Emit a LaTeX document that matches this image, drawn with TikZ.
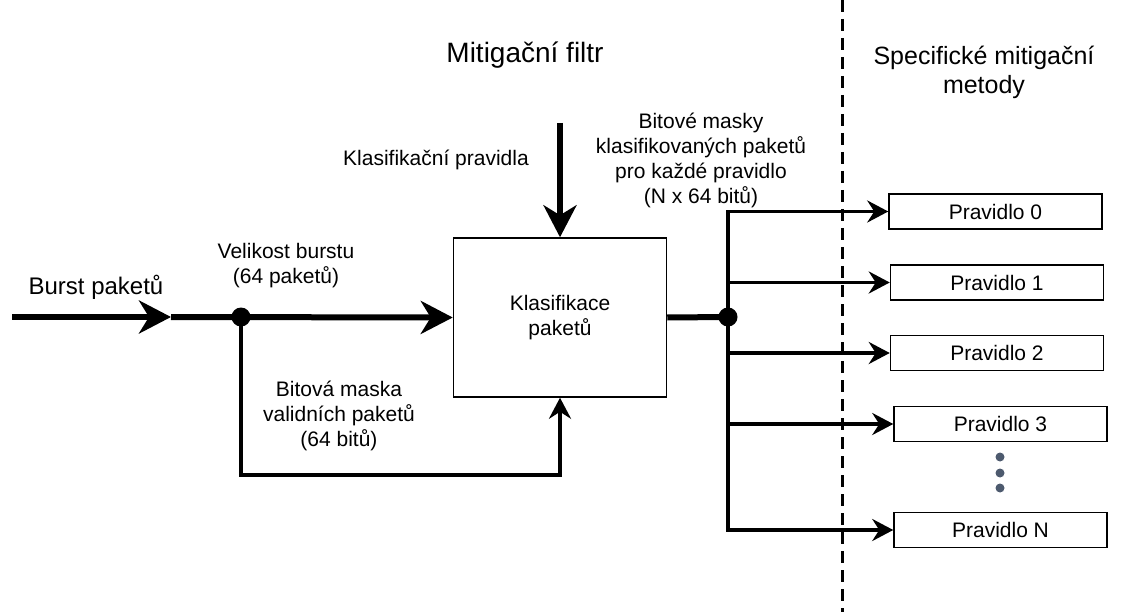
\documentclass[tikz,border=0pt]{standalone}
\usepackage{fontspec}
\setmainfont{Liberation Sans}
\usetikzlibrary{arrows.meta}

\definecolor{dotgray}{RGB}{77,90,110}

\begin{document}
\begin{tikzpicture}[x=1pt,y=-1pt,
  box/.style={draw,line width=1.5pt,inner sep=0pt,align=center,font=\fontsize{21}{25}\selectfont},
  txt/.style={align=center,inner sep=0pt,font=\fontsize{21}{25}\selectfont},
  big/.style={align=center,inner sep=0pt,font=\fontsize{25}{29}\selectfont},
  thickline/.style={line width=6pt},
  thinline/.style={line width=3.5pt},
  bigtip/.style={-{Stealth[length=32pt,width=33pt,inset=10pt]}},
  smalltip/.style={-{Stealth[length=21pt,width=22pt,inset=7pt]}},
  junction/.style={circle,fill=black,inner sep=0pt,minimum size=19pt}]
  \useasboundingbox (0,0) rectangle (1137,612);

  % titles
  \node[big,font=\fontsize{28}{32}\selectfont,anchor=base] (titleleft) at (525,63) {Mitigační filtr};
  \node[big] (titleright) at (984,72) {Specifické mitigační\\metody};
  \coordinate (divtop) at (842,0);
  \coordinate (divbot) at (842,612);
  \draw[line width=3pt,dash pattern=on 12pt off 7pt] (divtop) -- (divbot);

  % classifier
  \node[box,minimum width=213pt,minimum height=159pt] (klas) at (560,317.5) {Klasifikace\\paketů};
  \node[junction] (j1) at (241,317) {};
  \node[junction] (j2) at (728,317) {};
  \coordinate (burstin) at (12,317);
  \coordinate (split) at (171,317);
  \coordinate (rulesin) at (560,123);
  \coordinate (fbcorner) at (241,475);

  % rules
  \node[box,minimum width=213pt,minimum height=35pt] (r0) at (995.5,211.5) {Pravidlo 0};
  \node[box,minimum width=213pt,minimum height=35pt] (r1) at (997,282.5) {Pravidlo 1};
  \node[box,minimum width=213pt,minimum height=35pt] (r2) at (997,353) {Pravidlo 2};
  \node[box,minimum width=213pt,minimum height=35pt] (r3) at (1000.5,424) {Pravidlo 3};
  \node[box,minimum width=213pt,minimum height=35pt] (rN) at (1000.5,530) {Pravidlo N};
  \foreach \y in {457,473,488}
    \fill[dotgray] (1000,\y) circle (4.5pt);

  % labels
  \node[big,font=\fontsize{24}{28}\selectfont] (burstl) at (96,287) {Burst paketů};
  \node[txt] (rulesl) at (436,160) {Klasifikační pravidla};
  \node[txt] (sizel) at (286,266) {Velikost burstu\\(64 paketů)};
  \node[txt] (validl) at (339,416) {Bitová maska\\validních paketů\\(64 bitů)};
  \node[txt] (masksl) at (701,160) {Bitové masky\\klasifikovaných paketů\\pro každé pravidlo\\(N x 64 bitů)};

  % connectors
  \draw[thickline,bigtip] (burstin) -- (split);
  \draw[thickline,bigtip] (split) -- (klas.west);
  \draw[thickline,bigtip] (rulesin) -- (klas.north);
  \draw[thinline,smalltip] (j1.center) -- (fbcorner) -| (klas.south);
  \draw[thickline] (klas.east) -- (j2.center);
  \draw[thinline,smalltip] (j2.center) |- (r0.west);
  \draw[thinline,smalltip] (j2.center) |- (r1.west);
  \draw[thinline,smalltip] (j2.center) |- (r2.west);
  \draw[thinline,smalltip] (j2.center) |- (r3.west);
  \draw[thinline,smalltip] (j2.center) |- (rN.west);
\end{tikzpicture}
\end{document}
